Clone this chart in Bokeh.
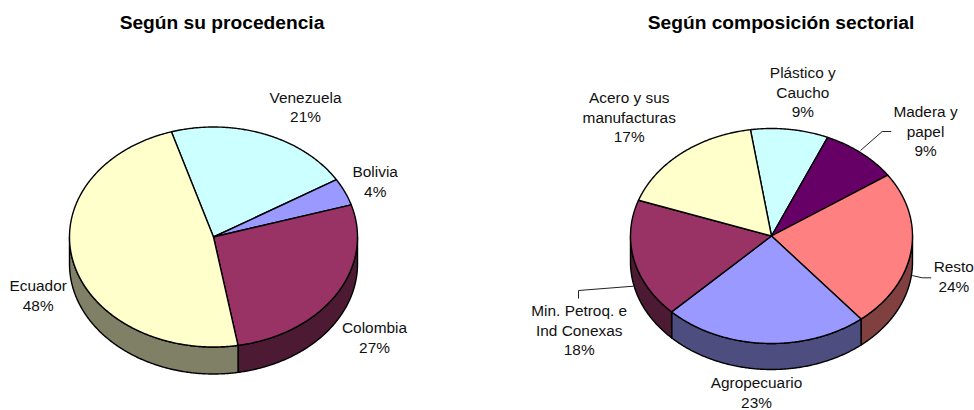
import numpy as np
from bokeh.plotting import figure
from bokeh.models import Range1d
from bokeh.core.properties import value
from bokeh.embed import file_html
from bokeh.resources import INLINE

# ---- data
origen_categorias = ["Venezuela", "Bolivia", "Colombia", "Ecuador"]
origen_valores = [21, 4, 27, 48]
sector_categorias = ["Plástico y\nCaucho", "Madera y\npapel", "Resto", "Agropecuario",
                     "Min. Petroq. e\nInd Conexas", "Acero y sus\nmanufacturas"]
sector_valores = [8.9, 8.9, 23.6, 23.45, 17.85, 17.2]
titulos = ["Según su procedencia", "Según composición sectorial"]

# ---- colours
origen_colores = ["#CCFFFF", "#9999FF", "#993366", "#FFFFCC"]
sector_colores = ["#CCFFFF", "#660066", "#FF8080", "#9999FF", "#993366", "#FFFFCC"]

# ---- layout (page pixels)
W, H = 974, 410
FONT = "Liberation Sans"
LH = 19.6
origen_geo = dict(cx=213, cy=236.5, rx=144, ry=110, depth=27, start=-17)
sector_geo = dict(cx=771, cy=235.5, rx=141, ry=107.5, depth=26, start=-8.6)
origen_pos = [(305, 96.5), (374.7, 171), (374, 327), (37.7, 285)]
sector_pos = [(802.3, 72), (925, 111), (953.3, 266), (756, 382), (578.7, 310), (628.7, 97)]
titulo_pos = [(221.5, 21.5), (780.5, 21.5)]
leaders = [([860, 881.7, 890.7], [150, 131, 131]),
           ([911.7, 921.7, 930.7], [275, 277.3, 277.3]),
           ([633, 578, 578], [285.7, 290, 298])]

p = figure(width=W, height=H, output_backend="svg", toolbar_location=None,
           x_range=Range1d(0, W), y_range=Range1d(H, 0),
           min_border=0, outline_line_color=None)
p.xaxis.visible = False
p.yaxis.visible = False
p.grid.visible = False


def dark(c):
    return "#" + "".join(f"{int(c[i:i+2], 16) // 2 + (int(c[i:i+2], 16) % 2):02X}" for i in (1, 3, 5))


def arc(g, a, b, dz=0.0):
    t = np.radians(np.linspace(a, b, max(3, int(abs(b - a) * 2))))
    return g["cx"] + g["rx"] * np.sin(t), g["cy"] - g["ry"] * np.cos(t) + dz


def pie(vals, cols, g):
    v = np.array(vals, float)
    ed = g["start"] + np.concatenate([[0], np.cumsum(v / v.sum() * 360)])
    # side walls (visible part: 90..270 degrees)
    for a, b, c in zip(ed[:-1], ed[1:], cols):
        for k in (0, 360):
            lo, hi = max(a + k, 90), min(b + k, 270)
            if hi > lo:
                x1, y1 = arc(g, lo, hi)
                x2, y2 = arc(g, hi, lo, g["depth"])
                p.patch(list(x1) + list(x2), list(y1) + list(y2), fill_color=dark(c),
                        line_color="black", line_width=1.4, line_join="round")
    # top faces
    for a, b, c in zip(ed[:-1], ed[1:], cols):
        x, y = arc(g, a, b)
        p.patch([g["cx"]] + list(x), [g["cy"]] + list(y), fill_color=c,
                line_color="black", line_width=1.4, line_join="round")


def etiquetas(cats, vals, pos):
    total = sum(vals)
    xs, ys, ts = [], [], []
    for c, v, (x, y) in zip(cats, vals, pos):
        lines = c.split("\n") + [f"{round(v / total * 100)}%"]
        for i, t in enumerate(lines):
            xs.append(x); ys.append(y + i * LH); ts.append(t)
    p.text(xs, ys, text=ts, text_font=value(FONT), text_font_size="15.4px", text_color="#111111",
           text_align="center", text_baseline="middle")


pie(origen_valores, origen_colores, origen_geo)
pie(sector_valores, sector_colores, sector_geo)
for lx, ly in leaders:
    p.line(lx, ly, line_color="#222222", line_width=1)
etiquetas(origen_categorias, origen_valores, origen_pos)
etiquetas(sector_categorias, sector_valores, sector_pos)
p.text([q[0] for q in titulo_pos], [q[1] for q in titulo_pos], text=titulos,
       text_font=value(FONT), text_font_size="19.2px", text_font_style="bold", text_color="black",
       text_align="center", text_baseline="middle")

open("out.html", "w").write(file_html(p, INLINE))
